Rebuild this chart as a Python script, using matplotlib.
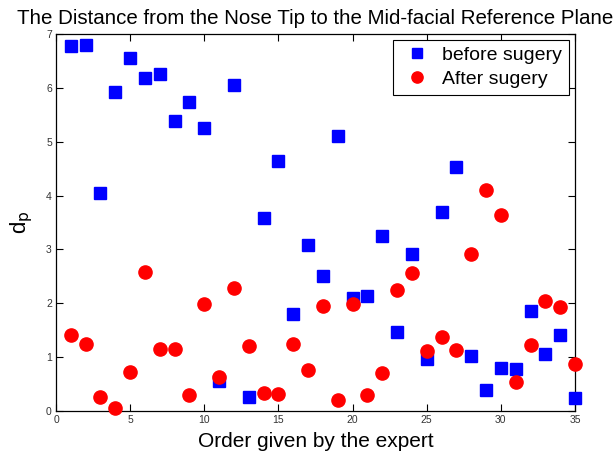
import matplotlib
matplotlib.use("Agg")
import matplotlib.pyplot as plt
import numpy as np

plt.rcParams['font.family'] = ['Liberation Sans', 'DejaVu Sans']

order = list(range(1, 36))
before = [6.77, 6.79, 4.04, 5.92, 6.56, 6.19, 6.25, 5.38, 5.74, 5.25,
          0.56, 6.06, 0.26, 3.58, 4.64, 1.81, 3.09, 2.51, 5.11, 2.09,
          2.13, 3.25, 1.47, 2.91, 0.97, 3.70, 4.53, 1.03, 0.39, 0.80,
          0.78, 1.86, 1.05, 1.41, 0.24]
after = [1.41, 1.24, 0.26, 0.05, 0.72, 2.58, 1.15, 1.15, 0.30, 1.99,
         0.64, 2.28, 1.21, 0.34, 0.32, 1.24, 0.77, 1.95, 0.20, 1.98,
         0.30, 0.70, 2.24, 2.56, 1.11, 1.37, 1.13, 2.92, 4.11, 3.63,
         0.54, 1.22, 2.04, 1.94, 0.87]
xticks = [0, 5, 10, 15, 20, 25, 30, 35]
yticks = [0, 1, 2, 3, 4, 5, 6, 7]

fig = plt.figure(figsize=(6.15, 4.57), dpi=100)
ax = fig.add_axes([56 / 615, 1 - 411 / 457, (575 - 56) / 615, (411 - 34) / 457])

ax.plot(order, before, linestyle='none', marker='s', markersize=8,
        color='#0000ff', markeredgecolor='#0000ff', label='before sugery',
        clip_on=False, zorder=3)
ax.plot(order, after, linestyle='none', marker='o', markersize=9.5,
        color='#ff0000', markeredgecolor='#ff0000', label='After sugery',
        clip_on=False, zorder=4)

ax.set_xlim(0, 35)
ax.set_ylim(0, 7)
ax.set_xticks(xticks)
ax.set_yticks(yticks)
ax.tick_params(direction='in', top=True, right=True, length=5, width=0.8,
               labelsize=7.5, labelcolor='#333333', pad=3)
for s in ax.spines.values():
    s.set_linewidth(0.9)

ax.set_xlabel('Order given by the expert', fontsize=15, labelpad=5)
ax.set_ylabel(r'd$_\mathrm{p}$', fontsize=16, labelpad=8)
ax.set_title('The Distance from the Nose Tip to the Mid-facial Reference Plane',
             fontsize=14.8, pad=7)

leg = ax.legend(loc='upper right', fontsize=14, frameon=True, fancybox=False,
                edgecolor='black', framealpha=1, borderaxespad=0.3,
                handletextpad=0.4, borderpad=0.35, labelspacing=0.3,
                handlelength=1.8, markerscale=0.85)
leg.get_frame().set_linewidth(0.8)

fig.savefig('out.png', dpi=100)
